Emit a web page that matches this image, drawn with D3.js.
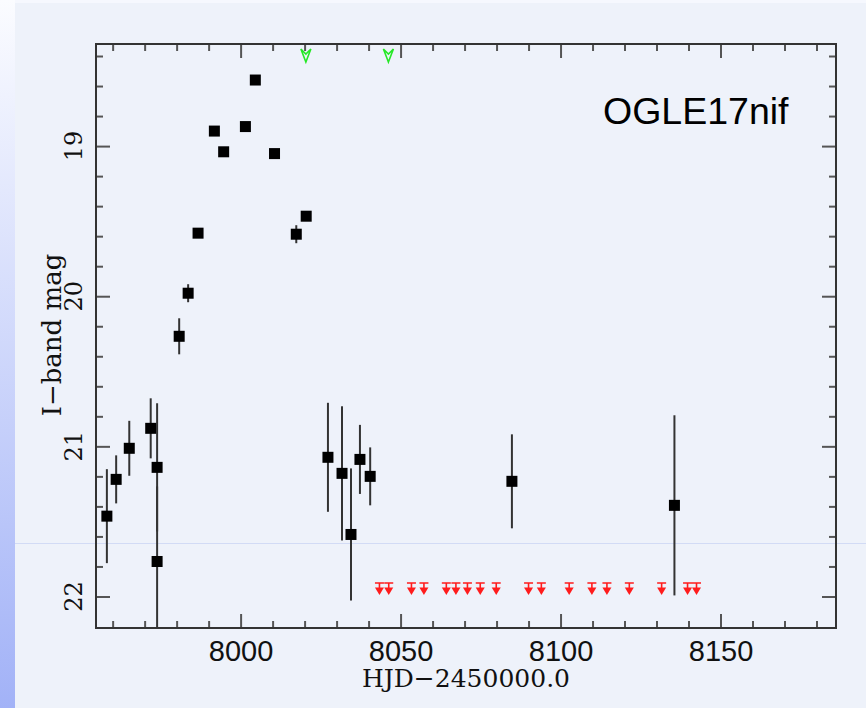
<!DOCTYPE html>
<html>
<head>
<meta charset="utf-8">
<script src="https://cdn.jsdelivr.net/npm/d3@7"></script>
<style>
  html, body { margin: 0; padding: 0; background: #eef2fa; }
  svg { display: block; }
</style>
</head>
<body>
<main></main>
<script>
const width = 866;
const height = 708;
const plot = {left: 96, right: 836, top: 44, bottom: 628};

// photometry (HJD-2450000, I mag, error)
const hjd = [7958.2, 7961.1, 7965.2, 7971.9, 7973.9, 7973.9, 7980.8, 7983.6, 7986.7,
             7991.8, 7994.7, 8001.5, 8004.6, 8010.6, 8017.4, 8020.5, 8027.3, 8031.7,
             8034.5, 8037.3, 8040.5, 8084.8, 8135.6];
const mag = [21.465, 21.22, 21.013, 20.88, 21.14, 21.767, 20.267, 19.98, 19.58,
             18.9, 19.038, 18.87, 18.56, 19.05, 19.587, 19.467, 21.073, 21.18,
             21.587, 21.087, 21.2, 21.233, 21.393];
const magErr = [0.313, 0.16, 0.183, 0.2, 0.427, 0.5, 0.12, 0.06, 0.03,
                0.02, 0.02, 0.02, 0.02, 0.02, 0.06, 0.03, 0.363, 0.447,
                0.44, 0.23, 0.193, 0.313, 0.6];

// upper limits
const limitHjd = [8043.4, 8046.3, 8053.4, 8057.3, 8064.3, 8067.3, 8070.9, 8074.9, 8079.9,
                  8090.0, 8094.0, 8102.7, 8109.8, 8114.5, 8121.5, 8131.6, 8139.7, 8142.5];
const limitMag = [21.91, 21.91, 21.91, 21.91, 21.91, 21.91, 21.91, 21.91, 21.91,
                  21.91, 21.91, 21.91, 21.91, 21.91, 21.91, 21.91, 21.91, 21.91];

// spectra epochs (green markers on top axis)
const spectraHjd = [8020.4, 8046.2];

const xMajor = [8000, 8050, 8100, 8150];
const yMajor = [19, 20, 21, 22];
const xMinor = d3.range(7960, 8186, 10).filter(d => !xMajor.includes(d));
const yMinor = d3.range(184, 222, 2).map(d => d / 10).filter(d => !yMajor.includes(d));

const svg = d3.select('main').append('svg')
    .attr('width', width)
    .attr('height', height);

// slide background
const defs = svg.append('defs');
const grad = defs.append('linearGradient')
    .attr('id', 'strip')
    .attr('x1', 0).attr('y1', 0).attr('x2', 0).attr('y2', 1);
grad.append('stop').attr('offset', '0%').attr('stop-color', '#fbfcff');
grad.append('stop').attr('offset', '100%').attr('stop-color', '#a2b2f7');

svg.append('rect').attr('width', width).attr('height', height).attr('fill', '#eef2fa');
svg.append('rect').attr('width', width).attr('height', 3).attr('fill', '#f6f8fe');
svg.append('rect').attr('width', 15).attr('height', height).attr('fill', 'url(#strip)');
svg.append('line')
    .attr('x1', 15).attr('x2', width)
    .attr('y1', 543.5).attr('y2', 543.5)
    .attr('stroke', '#d2dbf5').attr('stroke-width', 1);

defs.append('clipPath').attr('id', 'plotclip')
  .append('rect')
    .attr('x', plot.left).attr('y', plot.top)
    .attr('width', plot.right - plot.left)
    .attr('height', plot.bottom - plot.top);

const x = d3.scaleLinear().domain([7954.8, 8186.1]).range([plot.left, plot.right]);
const y = d3.scaleLinear().domain([18.32, 22.21]).range([plot.top, plot.bottom]);

const addTicks = (axisFn, scale, values, size, transform) => {
    const g = svg.append('g')
        .attr('transform', transform)
        .call(axisFn(scale).tickValues(values).tickSizeInner(size).tickSizeOuter(0).tickFormat(''));
    g.select('.domain').remove();
    g.selectAll('line').attr('stroke', '#555').attr('stroke-width', 2);
    return g;
};

addTicks(d3.axisBottom, x, xMinor, -7, `translate(0,${plot.bottom})`);
addTicks(d3.axisTop, x, xMinor, -7, `translate(0,${plot.top})`);
addTicks(d3.axisTop, x, xMajor, -14, `translate(0,${plot.top})`);
addTicks(d3.axisLeft, y, yMinor, -7, `translate(${plot.left},0)`);
addTicks(d3.axisLeft, y, yMajor, -14, `translate(${plot.left},0)`);
addTicks(d3.axisRight, y, yMinor, -7, `translate(${plot.right},0)`);
addTicks(d3.axisRight, y, yMajor, -14, `translate(${plot.right},0)`);

// bottom major ticks with labels
const xAxis = svg.append('g')
    .attr('transform', `translate(0,${plot.bottom})`)
    .call(d3.axisBottom(x).tickValues(xMajor).tickSizeInner(-14).tickSizeOuter(0).tickPadding(12).tickFormat(d3.format('d')));
xAxis.select('.domain').remove();
xAxis.selectAll('line').attr('stroke', '#555').attr('stroke-width', 2);
xAxis.selectAll('text')
    .attr('fill', '#111')
    .style('font-family', '"Liberation Sans", Arial, sans-serif')
    .style('font-size', '29px');

// left tick labels, rotated
svg.append('g').selectAll('text')
    .data(yMajor)
    .enter()
    .append('text')
    .attr('transform', d => `translate(82,${y(d)}) rotate(-90)`)
    .attr('text-anchor', 'middle')
    .attr('fill', '#111')
    .style('font-family', '"DejaVu Serif", serif')
    .style('font-size', '24px')
    .text(d => d);

// frame
svg.append('rect')
    .attr('x', plot.left).attr('y', plot.top)
    .attr('width', plot.right - plot.left)
    .attr('height', plot.bottom - plot.top)
    .attr('fill', 'none')
    .attr('stroke', '#333')
    .attr('stroke-width', 2);

const data = hjd.map((d, i) => ({t: d, m: mag[i], e: magErr[i]}));

// error bars
svg.append('g')
    .attr('clip-path', 'url(#plotclip)')
    .selectAll('line')
    .data(data)
    .enter()
    .append('line')
    .attr('x1', d => x(d.t)).attr('x2', d => x(d.t))
    .attr('y1', d => y(d.m - d.e)).attr('y2', d => y(d.m + d.e))
    .attr('stroke', '#333')
    .attr('stroke-width', 2);

// points
svg.append('g')
    .selectAll('rect')
    .data(data)
    .enter()
    .append('rect')
    .attr('x', d => x(d.t) - 5.5)
    .attr('y', d => y(d.m) - 5.5)
    .attr('width', 11)
    .attr('height', 11)
    .attr('fill', '#000');

// upper limits
const lim = svg.append('g')
    .selectAll('g')
    .data(limitHjd.map((d, i) => ({t: d, m: limitMag[i]})))
    .enter()
    .append('g')
    .attr('transform', d => `translate(${x(d.t)},${y(d.m)})`);
lim.append('path')
    .attr('d', 'M-4.5,0H4.5M0,0V6')
    .attr('stroke', '#ff1c1c')
    .attr('stroke-width', 1.6)
    .attr('fill', 'none');
lim.append('path')
    .attr('d', 'M-4.5,4.5L4.5,4.5L0,12Z')
    .attr('fill', '#ff1c1c');

// spectra markers
svg.append('g')
    .selectAll('path')
    .data(spectraHjd)
    .enter()
    .append('path')
    .attr('transform', d => `translate(${x(d)},${plot.top + 5})`)
    .attr('d', 'M-5,0L0,13L5,0L0,5Z')
    .attr('fill', 'none')
    .attr('stroke', '#26e826')
    .attr('stroke-width', 1.6);

// labels
svg.append('text')
    .attr('x', 603).attr('y', 124)
    .attr('fill', '#000')
    .style('font-family', '"Liberation Sans", Arial, sans-serif')
    .style('font-size', '37.5px')
    .text('OGLE17nif');

svg.append('text')
    .attr('x', 466).attr('y', 687)
    .attr('text-anchor', 'middle')
    .attr('fill', '#111')
    .style('font-family', '"DejaVu Serif", serif')
    .style('font-size', '25px')
    .text('HJD\u22122450000.0');

svg.append('text')
    .attr('transform', 'translate(61,335) rotate(-90)')
    .attr('text-anchor', 'middle')
    .attr('fill', '#111')
    .style('font-family', '"DejaVu Serif", serif')
    .style('font-size', '26px')
    .text('I\u2212band mag');
</script>
</body>
</html>
